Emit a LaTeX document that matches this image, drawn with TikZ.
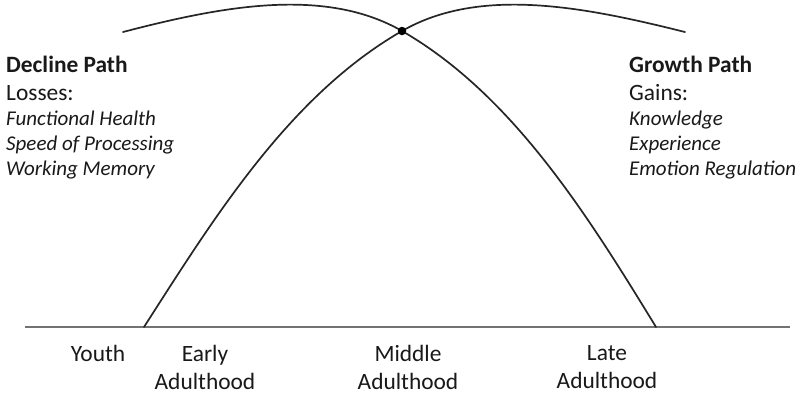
\documentclass[tikz,border=0pt]{standalone}
\usepackage{fontspec}
\setmainfont{Carlito}
\begin{document}
\begin{tikzpicture}[x=1pt,y=-1pt,
  curve/.style={line width=1.7pt, black!85, line cap=round},
  axisline/.style={line width=1.2pt, black!55},
  lbl/.style={inner sep=0pt, anchor=base west, text=black!90},
  big/.style={font=\fontsize{23.4}{28}\selectfont},
  bigb/.style={font=\fontsize{23.4}{28}\selectfont\bfseries},
  ital/.style={font=\fontsize{21}{25}\selectfont\itshape},
  bot/.style={inner sep=0pt, align=center, text=black!90, font=\fontsize{23.4}{28}\selectfont, anchor=north}]
\useasboundingbox (0,0) rectangle (800,400);
\fill[white] (0,0) rectangle (800,400);
% axis
\coordinate (axL) at (25,327);
\coordinate (axR) at (790,327);
\draw[axisline] (axL) -- (axR);
% key points
\coordinate (gStart) at (144,327);
\coordinate (cross) at (402,31);
\coordinate (gEnd) at (685,32);
\coordinate (dStart) at (123,32);
\coordinate (dEnd) at (656,327);
% growth curve (rises from early adulthood)
\draw[curve] (gStart) .. controls (214,218) and (289,96) .. (cross)
  .. controls (480,-14) and (585,7) .. (gEnd);
% decline curve (falls to late adulthood)
\draw[curve] (dStart) .. controls (219,7) and (324,-14) .. (cross)
  .. controls (513,95) and (588,216) .. (dEnd);
\node[circle, fill=black, inner sep=0pt, minimum size=8.5pt] (dot) at (cross) {};
% left text
\node[lbl, bigb] (dp) at (6,72) {Decline Path};
\node[lbl, big] (ls) at (6,100) {Losses:};
\node[lbl, ital] (l1) at (6,125) {Functional Health};
\node[lbl, ital] (l2) at (6,150) {Speed of Processing};
\node[lbl, ital] (l3) at (6,175) {Working Memory};
% right text
\node[lbl, bigb] (gp) at (629,72) {Growth Path};
\node[lbl, big] (gs) at (629,100) {Gains:};
\node[lbl, ital] (g1) at (629,125) {Knowledge};
\node[lbl, ital] (g2) at (629,150) {Experience};
\node[lbl, ital] (g3) at (629,175) {Emotion Regulation};
% bottom labels
\node[bot] (youth) at (98,345) {Youth};
\node[bot] (early) at (205,345) {Early\\Adulthood};
\node[bot] (middle) at (408,345) {Middle\\Adulthood};
\node[bot] (late) at (607,345) {Late\\Adulthood};
\end{tikzpicture}
\end{document}
